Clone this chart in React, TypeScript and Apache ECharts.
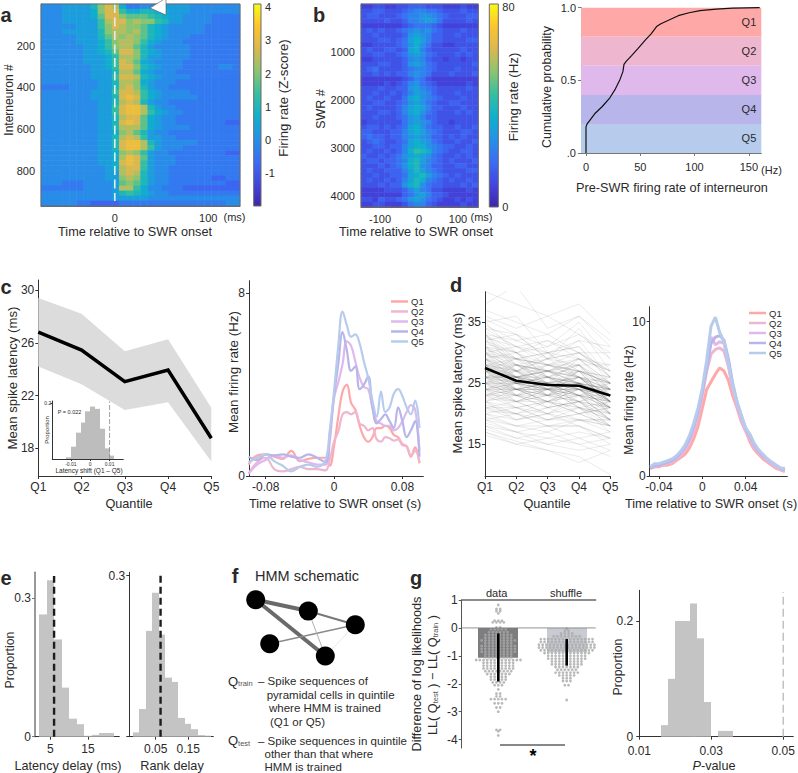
import React, { useEffect, useRef } from "react";
import * as echarts from "echarts";

const FONT = '"Liberation Sans", Arial, sans-serif';
const INK = "#2a2a2a";
const QNAMES = ["Q1", "Q2", "Q3", "Q4", "Q5"];
const QCOLORS = ["#ffa8a8", "#efb6d0", "#dfb9ec", "#b8b5ea", "#b7cced"];
const PARULA = ["#3e26a8", "#4346e0", "#3b6cf5", "#2591e6", "#0fb0cd", "#35bfa0", "#8cc470", "#d9b84f", "#fcc32f", "#f9fb15"];

// panel a: z = -1.1 + 0.35 * hex digit; one string per block of interneurons, one digit per time bin
const heatARows = [
  "33344446 9ba52233444443333333", "3334444 59bb75566554443333333", "33344445 8bb98887654433332222",
  "333444447abb9a99764433332222", "3333344479ba9986543333322222", "3334444469aa9a86543333322222",
  "333334446 8a9a98654333222222", "3333344457 9aa97543332222222", "33333344579aa864333332222222",
  "333333445 68bb96543333222222", "33333344457aa96443333222222", "33333344457ba8543333222222",
  "3333333445 7bb96543332222233", "33333334446aa854333222222222", "33333334447bba65433332222222",
  "33333333446aa954333222222222", "22223333446ab964332222222222", "33333334447bba75433332222222",
  "33333334446bcb75433333222222", "33333333446aba64332222222222", "333333334 47bcca643322222222",
  "333333334 47bcca754332222222", "33333333446abb85433222222222", "33333333446bcb85433222222211",
  "33333333446aaa85433332222222", "3333333344 59a8643322222222", "33333333446aba74433222222222",
  "33333333446bcca6433333222222", "33333333446bcca7433322222222", "333333334459a974332222222211",
  "33333333445acb84333222222222", "33333333445bcb74333222222222", "33333333345abb74332222222222",
  "33333333344aba64332222222222", "33333333344 9a9643322222211", "3332223333489864332222222211",
  "22222233334aa753322211111111", "33333333334676543322222222", "33333333334444433333 33333333",
  "33333221111222222222 22222233",
].map((r) => r.replace(/ /g, "").padEnd(28, "2").slice(0, 28));

// panel b: rate (Hz) = 4 * hex digit; one string per block of ripples
const heatBRows = [
  "22332233444333222322", "33443334566554333433", "34433345667765433344", "33334334667875333343",
  "22222223455543222222", "34343345676754333433", "33433334787644334333", "33344345898644333344",
  "22333345797533223333", "34334434896433333433", "33443345787543334343", "22333334676433233233",
  "33344334787543333334", "34533334566543334333", "33434344676533343334", "22222223465322222222",
  "22223234675432222232", "33343344786543333343", "33433434687643334333", "34334335897654333433",
  "33443345787543344333", "34333346898644333433", "33344346897543334343", "33433345786443333333",
  "23333335787643323333", "34434345897544334334", "44333446898654333443", "45443446787644343433",
  "34543345898754334334", "33443446899765443343", "3433434 69ba965433443", "4334345789 8754334343",
  "34434456 9a865434333 4", "33343457 9a76443344 33", "3433444 68a865433334 4", "33433445 89a865434333",
  "3433434 68a965434334 3", "33343447 9a754433343 4", "22223334686533222232", "22222224578644322222",
  "33243345787543223232", "22332223566432222322",
].map((r) => r.replace(/ /g, "").padEnd(20, "3").slice(0, 20));

// cumulative distribution
const cdfRate = [0, 0, 1, 3, 8, 15, 22, 27, 31, 34, 35, 37, 42, 48, 55, 60, 65, 69, 75, 85, 95, 105, 120, 135, 160];
const cdfProb = [0, 0.18, 0.2, 0.22, 0.27, 0.32, 0.38, 0.44, 0.5, 0.56, 0.61, 0.63, 0.67, 0.72, 0.78, 0.82, 0.87, 0.89, 0.91, 0.945, 0.965, 0.98, 0.99, 0.997, 1];
const quintileEdges = [1, 0.8, 0.6, 0.4, 0.2, 0];

// panel c
const latencyMeanC = [26.8, 25.45, 23.05, 23.93, 18.76];
const latencyUpperC = [29.4, 28.2, 25.35, 26.27, 21.08];
const latencyLowerC = [24.2, 22.85, 20.9, 21.5, 17.0];
const insetEdges = [-0.0125, -0.01, -0.0075, -0.005, -0.0025, 0, 0.0025, 0.005, 0.0075, 0.01, 0.0125];
const insetHeights = [0.006, 0.044, 0.094, 0.13, 0.17, 0.187, 0.179, 0.108, 0.038, 0.012];
const tC = [-0.1, -0.09, -0.08, -0.07, -0.06, -0.05, -0.04, -0.03, -0.02, -0.01, -0.005, 0, 0.005, 0.01, 0.015, 0.02, 0.025, 0.03, 0.035, 0.04, 0.045, 0.05, 0.055, 0.06, 0.065, 0.07, 0.075, 0.08, 0.085, 0.09, 0.095, 0.1];
const rateC1 = [0.5, 0.9, 0.95, 0.85, 0.75, 1.1, 0.65, 0.75, 0.8, 0.8, 0.45, 1.3, 2.6, 3.7, 4.0, 3.2, 2.9, 2.2, 1.7, 1.5, 1.7, 2.1, 2.1, 2.2, 2.1, 1.8, 1.7, 1.4, 1.3, 0.85, 1.25, 0.55];
const rateC2 = [0.1, 0.6, 0.8, 0.3, 0.2, 0.3, 0.4, 0.3, 0.3, 0.25, 0.7, 1.5, 1.95, 2.7, 2.8, 2.7, 2.8, 2.3, 2.2, 2.0, 2.1, 1.6, 1.5, 1.7, 1.65, 1.55, 1.6, 1.35, 1.3, 0.9, 1.1, 0.6];
const rateC3 = [0.1, 0.5, 0.7, 0.9, 0.8, 0.9, 0.7, 0.6, 0.5, 0.5, 1.5, 3.4, 4.1, 4.9, 5.9, 5.7, 5.0, 4.3, 3.9, 3.8, 3.0, 2.4, 2.3, 2.2, 2.2, 2.0, 2.1, 2.4, 2.8, 3.1, 2.9, 1.1];
const rateC4 = [0.85, 0.7, 0.95, 0.9, 0.95, 0.85, 0.8, 0.95, 0.8, 0.6, 1.8, 3.5, 4.9, 6.3, 5.5, 4.6, 4.8, 3.8, 4.0, 4.36, 3.0, 2.3, 2.5, 2.7, 2.4, 2.1, 3.0, 2.4, 1.7, 2.0, 2.4, 0.85];
const rateC5 = [0.6, 0.8, 0.95, 0.65, 0.45, 0.2, 0.4, 0.5, 0.4, 0.7, 2.0, 3.7, 5.7, 7.2, 6.6, 6.1, 6.2, 5.8, 5.0, 4.3, 3.3, 2.6, 3.7, 2.8, 3.0, 3.6, 3.8, 3.5, 3.0, 2.7, 3.3, 2.1];

// panel d
const latencyMeanD = [27.5, 25.4, 24.7, 24.6, 23.0];
const latencyLinesD = [
  [40, 38, 36, 38, 33], [38, 41, 34, 36, 32], [37, 35, 33, 36, 31], [36, 34, 36, 33, 30], [35.5, 33, 31, 35, 29], [35, 36, 30, 32, 31],
  [34.5, 32, 33, 30, 30], [34, 33, 29, 34, 27], [33.5, 31, 32, 29, 28], [33, 32, 30, 31, 26], [33, 30, 31, 33, 29], [32.5, 31, 28, 30, 27],
  [32, 33, 29, 28, 28], [32, 29, 30, 31, 25], [31.5, 30, 28, 29, 27], [31, 28, 29, 32, 26], [31, 30, 27, 28, 25], [30.5, 29, 30, 27, 26],
  [30, 28, 27, 29, 24], [30, 27, 29, 30, 27], [29.5, 29, 26, 27, 25], [29, 27, 28, 26, 24], [29, 28, 25, 29, 25], [28.5, 26, 27, 28, 23],
  [28, 27, 26, 25, 26], [28, 25, 28, 27, 24], [27.5, 26, 24, 27, 22], [27, 26, 27, 24, 25], [27, 24, 25, 26, 23], [26.5, 25, 26, 23, 24],
  [26, 26, 24, 25, 21], [26, 23, 25, 24, 23], [25.5, 24, 23, 26, 22], [25, 25, 24, 22, 24], [25, 23, 22, 24, 20], [24.5, 24, 25, 23, 22],
  [24, 22, 23, 24, 21], [24, 23, 21, 22, 23], [23.5, 22, 24, 21, 20], [23, 23, 22, 23, 21], [23, 21, 22, 20, 22], [22.5, 22, 20, 23, 19],
  [22, 20, 22, 21, 20], [22, 21, 19, 20, 21], [21.5, 20, 21, 22, 18], [21, 21, 20, 19, 19], [21, 19, 20, 21, 17], [20.5, 20, 18, 19, 19],
  [20, 18, 19, 20, 18], [20, 19, 20, 18, 16], [19.5, 18, 17, 19, 18], [19, 18, 18, 16, 17], [19, 17, 18, 18, 15], [18.5, 17, 16, 17, 16],
  [18, 16, 17, 15, 16], [18, 17, 15, 16, 14], [17.5, 16, 15, 14, 15], [17, 15, 16, 15, 13], [17, 15.5, 14, 12, 14], [16.5, 15, 14, 13, 10],
  [31, 27, 30, 26, 22], [29, 26, 23, 28, 20], [33, 28, 26, 24, 23], [27, 29, 24, 22, 19], [25, 27, 23, 27, 21], [24, 26, 26, 21, 18],
  [28, 24, 27, 25, 20], [30, 25, 24, 26, 22], [26, 28, 25, 23, 19], [23, 25, 21, 25, 24], [29, 25, 25, 24, 21], [27, 25, 25, 25, 22],
  [28, 26, 24, 24, 23], [26, 25, 26, 25, 24], [27, 24, 24, 23, 21], [25, 24, 24, 24, 22], [28, 26, 25, 26, 24], [26, 24, 23, 25, 23],
  [29, 27, 25, 23, 25], [27, 26, 23, 24, 20], [25, 26, 25, 26, 25], [24, 25, 24, 25, 23], [30, 26, 26, 25, 24], [28, 25, 23, 25, 22],
  [34, 31, 30, 29, 27], [32, 30, 26, 28, 24], [31, 29, 27, 25, 24], [33, 29, 28, 27, 25], [30, 29, 28, 28, 23], [29, 30, 26, 25, 23],
  [28, 28, 27, 26, 22], [27, 27, 27, 26, 23], [26, 27, 24, 24, 22], [25, 22, 24, 23, 20], [24, 24, 22, 25, 22], [23, 24, 23, 22, 20],
  [22, 23, 21, 22, 19], [21, 22, 22, 20, 18], [20, 21, 19, 21, 19], [19, 20, 19, 19, 18], [24, 21, 22, 23, 19], [26, 22, 23, 22, 21],
  [28, 23, 26, 24, 21], [30, 27, 24, 27, 22], [31, 26, 28, 26, 23], [32, 28, 27, 29, 25], [29, 24, 25, 22, 21], [27, 23, 24, 25, 20],
  [26, 24, 22, 21, 19], [25, 23, 24, 21, 22], [24, 23, 23, 20, 21], [23, 22, 20, 22, 18], [22, 19, 21, 19, 17], [21, 20, 18, 18, 16],
  [35, 30, 32, 30, 26], [33, 27, 29, 26, 24], [30, 31, 29, 30, 26], [28, 29, 28, 27, 26], [27, 28, 26, 28, 24], [25, 28, 27, 25, 23],
  [26, 26, 27, 27, 25], [24, 25, 25, 24, 24], [23, 24, 25, 25, 22], [22, 24, 22, 24, 21], [27, 25, 26, 24, 24], [29, 26, 27, 26, 25],
  [28, 27, 25, 27, 25], [26, 25, 24, 26, 22], [25, 25, 23, 23, 23], [24, 24, 24, 23, 22], [27, 26, 25, 23, 22], [26, 26, 25, 24, 23],
];
const tD = [-0.048, -0.044, -0.04, -0.036, -0.032, -0.028, -0.024, -0.02, -0.016, -0.012, -0.008, -0.004, 0, 0.004, 0.008, 0.012, 0.016, 0.02, 0.024, 0.028, 0.032, 0.036, 0.04, 0.044, 0.048, 0.052, 0.056, 0.06, 0.064, 0.068, 0.072, 0.076];
const rateD1 = [0.5, 0.6, 0.6, 0.7, 0.7, 0.8, 1.0, 1.2, 1.4, 1.8, 2.4, 3.2, 4.4, 5.6, 6.1, 6.6, 7.0, 6.8, 6.2, 5.2, 4.4, 3.5, 2.9, 2.2, 1.7, 1.4, 1.1, 0.9, 0.7, 0.5, 0.4, 0.3];
const rateD2 = [0.5, 0.6, 0.7, 0.7, 0.8, 0.9, 1.1, 1.3, 1.7, 2.1, 2.9, 3.8, 5.2, 6.8, 7.9, 8.2, 8.3, 8.1, 7.1, 5.6, 4.6, 3.6, 2.9, 2.4, 1.8, 1.5, 1.2, 1.0, 0.8, 0.6, 0.4, 0.3];
const rateD3 = [0.6, 0.7, 0.7, 0.8, 0.9, 1.0, 1.2, 1.4, 1.8, 2.3, 3.1, 4.0, 5.4, 7.0, 9.0, 8.5, 8.7, 8.6, 7.4, 5.8, 4.7, 3.7, 3.0, 2.5, 1.9, 1.6, 1.3, 1.0, 0.8, 0.6, 0.5, 0.4];
const rateD4 = [0.5, 0.7, 0.7, 0.8, 0.9, 1.0, 1.2, 1.5, 1.9, 2.4, 3.2, 4.2, 5.5, 7.0, 8.6, 9.0, 9.1, 8.8, 7.6, 6.0, 4.8, 3.9, 3.1, 2.6, 2.0, 1.6, 1.3, 1.1, 0.9, 0.7, 0.5, 0.4];
const rateD5 = [0.6, 0.8, 0.8, 0.9, 1.0, 1.1, 1.3, 1.6, 2.0, 2.6, 3.4, 4.4, 5.7, 7.5, 9.7, 10.3, 9.3, 8.7, 7.3, 5.8, 4.8, 3.9, 3.1, 2.7, 2.1, 1.7, 1.4, 1.1, 0.9, 0.7, 0.5, 0.5];

// panel e
const latencyEdges = [2, 4, 6, 8, 10, 12, 14, 16, 18, 20, 22];
const latencyHeights = [0.264, 0.338, 0.21, 0.106, 0.039, 0.027, 0.002, 0.004, 0.008, 0.008];
const rankEdges = [-0.02, 0, 0.02, 0.04, 0.06, 0.08, 0.1, 0.12, 0.14, 0.16, 0.18, 0.2, 0.22];
const rankHeights = [0.008, 0.0515, 0.197, 0.268, 0.19, 0.11, 0.102, 0.035, 0.024, 0.014, 0.003, 0.002];
const latencyDelayMean = 6;
const rankDelayMean = 0.065;

// panel g: [difference, number of dots in that row of the swarm]
const swarmData = [[0.82, 1], [0.68, 2], [0.6, 2], [0.52, 1], [0.26, 3], [0.2, 4], [0.02, 2], [-0.05, 5], [-0.15, 6], [-0.25, 8], [-0.35, 8], [-0.45, 10], [-0.55, 8], [-0.65, 10], [-0.75, 10], [-0.85, 10], [-0.95, 8], [-1.05, 8], [-1.15, 13], [-1.25, 9], [-1.35, 9], [-1.45, 9], [-1.55, 8], [-1.65, 7], [-1.75, 5], [-1.85, 5], [-1.95, 4], [-2.05, 3], [-2.2, 1], [-2.35, 2], [-2.45, 2], [-2.55, 5], [-2.7, 3], [-2.85, 2], [-3.0, 1], [-3.65, 2], [-3.7, 1], [-3.85, 1]];
const swarmShuffle = [[-0.03, 1], [-0.1, 2], [-0.2, 4], [-0.3, 8], [-0.4, 15], [-0.5, 15], [-0.6, 16], [-0.7, 16], [-0.8, 15], [-0.9, 13], [-1.0, 11], [-1.1, 11], [-1.2, 9], [-1.3, 9], [-1.4, 7], [-1.5, 6], [-1.6, 7], [-1.7, 5], [-1.8, 3], [-1.9, 3], [-2.05, 2], [-2.58, 1]];
const llMeans = [-1.07, -0.87];
const llErrorTop = [-0.2, -0.4];
const llErrorBottom = [-1.92, -1.35];
const pEdges = [0.016, 0.018, 0.02, 0.022, 0.024, 0.026, 0.028, 0.03, 0.032, 0.034, 0.036];
const pHeights = [0.02, 0.1, 0.2, 0.2, 0.23, 0.17, 0.06, 0, 0.01, 0.01];

function buildOption() {
  const grid: any[] = [], xAxis: any[] = [], yAxis: any[] = [], series: any[] = [], graphic: any[] = [];
  const add = (l: number, t: number, r: number, b: number, x: any, y: any) => {
    const i = grid.length;
    grid.push({ left: l, top: t, width: r - l, height: b - t });
    xAxis.push({ gridIndex: i, ...x });
    yAxis.push({ gridIndex: i, ...y });
    return i;
  };
  const ax = (min: number, max: number, ticks: number[], o: any = {}) => ({
    type: "value", min, max, inverse: !!o.inverse, position: o.pos,
    splitLine: { show: false },
    axisLine: { show: o.line !== "none", onZero: false, lineStyle: { color: o.line || "#333", width: o.lw || 1 } },
    axisTick: { show: !o.noTick, length: o.tl ?? 3, inside: !!o.inside, customValues: ticks, lineStyle: { color: o.line || "#333" } },
    axisLabel: { show: !o.noLabel, customValues: ticks, formatter: o.fmt || ((v: number) => String(v)), fontSize: o.fs || 12, color: INK, fontFamily: FONT, margin: o.m ?? 5 },
  });
  const hidden = (min: number, max: number) => ({ type: "value", min, max, show: false, splitLine: { show: false } });
  const catAx = (data: string[]) => ({
    type: "category", data, boundaryGap: false,
    axisLine: { show: true, onZero: false, lineStyle: { color: "#333", width: 1 } },
    axisTick: { show: true, length: 3, alignWithLabel: true, lineStyle: { color: "#333" } },
    axisLabel: { fontSize: 12, color: INK, fontFamily: FONT, margin: 5, interval: 0 },
  });
  const txt = (text: string, x: number, y: number, o: any = {}) => {
    graphic.push({
      type: "text", x, y, rotation: o.rot ? Math.PI / 2 : 0, z: 60, silent: true,
      style: { text, fontSize: o.fs || 12.7, fontFamily: FONT, fontWeight: o.bold ? "bold" : "normal", fontStyle: o.italic ? "italic" : "normal", fill: o.fill || INK, align: o.align || "center", verticalAlign: "middle", rich: o.rich },
    });
  };
  const hist = (g: number, edges: number[], heights: number[], color: string) => {
    series.push({
      type: "custom", xAxisIndex: g, yAxisIndex: g, silent: true, z: 2,
      data: heights.map((h, i) => [edges[i], edges[i + 1], h]),
      encode: { x: [0, 1], y: 2 },
      renderItem: (_: any, api: any) => {
        const a = api.coord([api.value(0), api.value(2)]);
        const b = api.coord([api.value(1), 0]);
        const x0 = Math.round(a[0]), x1 = Math.round(b[0]);
        return { type: "rect", shape: { x: x0, y: Math.min(a[1], b[1]), width: x1 - x0, height: Math.abs(b[1] - a[1]) }, style: { fill: color } };
      },
    });
  };
  const vline = (g: number, data: number[][], color: string, width: number, type: any = "solid", z = 5) => {
    series.push({ type: "line", xAxisIndex: g, yAxisIndex: g, data, symbol: "none", silent: true, z, clip: false, lineStyle: { color, width, type } });
  };
  const frame = (l: number, t: number, r: number, b: number) => {
    graphic.push({ type: "rect", z: 55, silent: true, shape: { x: l, y: t, width: r - l, height: b - t }, style: { fill: "none", stroke: "#6a6a6a", lineWidth: 1 } });
  };
  const colorbar = (l: number, t: number, r: number, b: number) => {
    graphic.push({
      type: "rect", z: 1, silent: true, shape: { x: l, y: t, width: r - l, height: b - t },
      style: { fill: { type: "linear", x: 0, y: 1, x2: 0, y2: 0, colorStops: PARULA.map((color, i) => ({ offset: i / (PARULA.length - 1), color })) } },
    });
    frame(l, t, r, b);
  };
  const heat = (name: string, rect: number[], rows: string[], conv: (d: number) => number) => {
    const [l, t, r, b] = rect;
    const nc = rows[0].length;
    const g = add(l, t, r, b,
      { type: "category", show: false, data: Array.from({ length: nc }, (_, i) => String(i)) },
      { type: "category", show: false, inverse: true, data: rows.map((_, i) => String(i)) });
    const data: number[][] = [];
    rows.forEach((row, ri) => { for (let c = 0; c < nc; c++) data.push([c, ri, conv(parseInt(row[c], 16))]); });
    series.push({ type: "heatmap", name, xAxisIndex: g, yAxisIndex: g, data, silent: true, z: 2, itemStyle: { borderWidth: 0 } });
    return series.length - 1;
  };

  // ---------- panel a
  const aS = heat("a", [41, 4, 240, 206], heatARows, (d) => -1.1 + 0.35 * d);
  const a2 = add(41, 4, 240, 206,
    ax(-79, 134, [0, 100], { line: "#6a6a6a", inside: true, fs: 11, m: 6 }),
    ax(0, 969, [200, 400, 600, 800], { inverse: true, line: "#6a6a6a", inside: true, fs: 11, m: 6 }));
  vline(a2, [[0, 0], [0, 945]], "#dceef0", 1.6, [9, 4.5]);
  frame(41, 4, 240, 206);
  graphic.push({ type: "polygon", z: 58, silent: true, shape: { points: [[150, 8], [166, -2], [166, 15]] }, style: { fill: "#fff", stroke: "#555", lineWidth: 0.6 } });
  colorbar(253.7, 4, 261, 206);
  add(253.7, 4, 261, 206, hidden(0, 1),
    ax(-2, 4.1, [-1, 0, 1, 2, 3, 4], { pos: "right", line: "none", noTick: true, fs: 11, m: 4 }));
  txt("a", 6, 15, { bold: true, fs: 20 });
  txt("Interneuron #", 9, 100, { rot: true, fs: 12 });
  txt("Firing rate (Z-score)", 283, 98, { rot: true, fs: 13.3 });
  txt("(ms)", 234.5, 217, { fs: 11 });
  txt("Time relative to SWR onset", 135, 232);

  // ---------- panel b
  const bS = heat("b", [361, 4, 478.3, 207], heatBRows, (d) => 4 * d);
  add(361, 4, 478.3, 207,
    ax(-149, 152, [-100, 0, 100], { line: "#6a6a6a", inside: true, fs: 11, m: 6 }),
    ax(0, 4220, [1000, 2000, 3000, 4000], { inverse: true, line: "#6a6a6a", inside: true, fs: 11, m: 6 }));
  frame(361, 4, 478.3, 207);
  colorbar(489.3, 4, 498.3, 207);
  add(489.3, 4, 498.3, 207, hidden(0, 1),
    ax(0, 81, [0, 80], { pos: "right", line: "none", noTick: true, fs: 11, m: 4 }));
  txt("b", 319, 15, { bold: true, fs: 20 });
  txt("SWR #", 321, 109, { rot: true, fs: 12.5 });
  txt("Firing rate (Hz)", 513, 97, { rot: true, fs: 13.3 });
  txt("(ms)", 481.5, 217, { fs: 11 });
  txt("Time relative to SWR onset", 416, 232);

  // ---------- CDF
  const cdf = add(581, 7.7, 761.3, 153,
    ax(-4.6, 161.5, [0, 50, 100, 150], { line: "#777", fs: 11, m: 8 }),
    ax(0, 1, [0, 0.5, 1], { line: "#777", fs: 11, m: 5, fmt: (v: number) => (v === 0 ? ".0" : v.toFixed(1)) }));
  series.push({
    type: "line", xAxisIndex: cdf, yAxisIndex: cdf, data: cdfRate.map((r, i) => [r, cdfProb[i]]), symbol: "none", z: 4, silent: true,
    lineStyle: { color: "#111", width: 1.2 },
    markArea: {
      silent: true, z: 1,
      data: QNAMES.map((q, i) => [
        { yAxis: quintileEdges[i + 1], name: q, itemStyle: { color: QCOLORS[i], opacity: 1 }, label: { show: true, position: "insideRight", distance: 5, fontSize: 11, color: INK, fontFamily: FONT, formatter: q } },
        { yAxis: quintileEdges[i] },
      ]),
    },
  });
  txt("Cumulative probability", 547, 87, { rot: true, fs: 12.4 });
  txt("(Hz)", 771.5, 170, { fs: 11 });
  txt("Pre-SWR firing rate of interneuron", 672, 188);

  // ---------- panel c left
  const cL = add(38.3, 280, 211.3, 476, catAx(QNAMES), ax(15.9, 30.76, [18, 22, 26, 30], { m: 4 }));
  series.push({ type: "line", xAxisIndex: cL, yAxisIndex: cL, stack: "sem", data: latencyLowerC, symbol: "none", silent: true, lineStyle: { width: 0 }, areaStyle: { opacity: 0 } });
  series.push({ type: "line", xAxisIndex: cL, yAxisIndex: cL, stack: "sem", data: latencyUpperC.map((u, i) => +(u - latencyLowerC[i]).toFixed(2)), symbol: "none", silent: true, lineStyle: { width: 0 }, areaStyle: { color: "#dcdcdc", opacity: 1 } });
  series.push({ type: "line", xAxisIndex: cL, yAxisIndex: cL, data: latencyMeanC, symbol: "none", silent: true, z: 4, lineStyle: { color: "#000", width: 3.5, cap: "butt", join: "miter" } });
  txt("c", 6, 287, { bold: true, fs: 20 });
  txt("Mean spike latency (ms)", 12, 378, { rot: true, fs: 13.2 });
  txt("Quantile", 129, 504);

  // inset
  const ins = add(52.3, 401, 123.3, 459,
    ax(-0.0196, 0.0171, [-0.01, 0, 0.01], { fs: 5, m: 2, tl: 2 }),
    ax(0, 0.207, [0.2], { fs: 5, m: 1, tl: 2 }));
  hist(ins, insetEdges, insetHeights, "#bdbdbd");
  vline(ins, [[0.01, 0], [0.01, 0.205]], "#8a8a8a", 0.8, [5, 2]);
  txt("P = 0.022", 69.5, 412, { fs: 5.5 });
  txt("Proportion", 46.5, 430, { rot: true, fs: 6 });
  txt("Latency shift (Q1 \u2013 Q5)", 89, 470.5, { fs: 6.5 });

  // ---------- panel c right
  const cR = add(249, 280.7, 423.3, 476,
    ax(-0.0995, 0.1045, [-0.08, 0, 0.08], { m: 5 }),
    ax(0, 8.55, [0, 8], { m: 4 }));
  [rateC1, rateC2, rateC3, rateC4, rateC5].forEach((v, i) => {
    series.push({ type: "line", name: QNAMES[i], xAxisIndex: cR, yAxisIndex: cR, data: v.map((y, k) => [tC[k], y]), symbol: "none", silent: true, smooth: 0.4, z: 3 + i, itemStyle: { color: QCOLORS[i] }, lineStyle: { color: QCOLORS[i], width: 2.2 } });
  });
  txt("Mean firing rate (Hz)", 233, 372, { rot: true, fs: 13.4 });
  txt("Time relative to SWR onset (s)", 335, 504);

  // ---------- panel d left
  const dL = add(485, 291.7, 610.3, 476, catAx(QNAMES), ax(9.8, 40, [15, 25, 35], { m: 4 }));
  latencyLinesD.forEach((v) => {
    series.push({ type: "line", xAxisIndex: dL, yAxisIndex: dL, data: v, symbol: "none", silent: true, z: 2, lineStyle: { color: "#666", width: 1, opacity: 0.13 } });
  });
  series.push({ type: "line", xAxisIndex: dL, yAxisIndex: dL, data: latencyMeanD, symbol: "none", silent: true, z: 4, lineStyle: { color: "#000", width: 2.6 } });
  txt("d", 456, 285, { bold: true, fs: 20 });
  txt("Mean spike latency (ms)", 457, 383, { rot: true, fs: 13 });
  txt("Quantile", 547, 504);

  // ---------- panel d right
  const dR = add(649.7, 306.7, 787.3, 476,
    ax(-0.0485, 0.0783, [-0.04, 0, 0.04], { m: 5 }),
    ax(0, 10.97, [0, 10], { m: 4 }));
  [rateD1, rateD2, rateD3, rateD4, rateD5].forEach((v, i) => {
    series.push({ type: "line", name: QNAMES[i], xAxisIndex: dR, yAxisIndex: dR, data: v.map((y, k) => [tD[k], y]), symbol: "none", silent: true, z: 3 + i, itemStyle: { color: QCOLORS[i] }, lineStyle: { color: QCOLORS[i], width: 3 } });
  });
  txt("Mean firing rate (Hz)", 629, 400, { rot: true, fs: 12 });
  txt("Time relative to SWR onset (s)", 711, 504);

  // ---------- panel e
  const eL = add(35, 572.3, 119.3, 736.7,
    ax(0.94, 23.3, [5, 15], { m: 6 }),
    ax(0, 0.355, [0, 0.3], { line: "#777", lw: 1.5, m: 4 }));
  hist(eL, latencyEdges, latencyHeights, "#c4c4c4");
  vline(eL, [[latencyDelayMean, 0], [latencyDelayMean, 0.347]], "#1c1c1c", 2.4, [7, 4]);
  const eR = add(129.3, 572.3, 213.3, 736.7,
    ax(-0.031, 0.227, [0.05, 0.15], { m: 6 }),
    ax(0, 0.306, [0, 0.3], { m: 4, fmt: (v: number) => (v === 0 ? "" : String(v)) }));
  hist(eR, rankEdges, rankHeights, "#c4c4c4");
  vline(eR, [[rankDelayMean, 0], [rankDelayMean, 0.3]], "#1c1c1c", 2.4, [7, 4]);
  txt("e", 6, 578, { bold: true, fs: 20 });
  txt("Proportion", 9.5, 660, { rot: true, fs: 12.3 });
  txt("Latency delay (ms)", 68, 766);
  txt("Rank delay", 172, 766);

  // ---------- panel f
  txt("f", 235, 576, { bold: true, fs: 20 });
  txt("HMM schematic", 255, 575.5, { fs: 14.5, align: "left" });
  const nodes = [[255.7, 599.7], [308.3, 611], [355.3, 624.7], [269.7, 643.7], [325.3, 656]];
  const links = [[0, 1, 4, "#6a6a6a"], [0, 4, 4, "#6a6a6a"], [1, 2, 2, "#777"], [2, 3, 1.4, "#8a8a8a"], [1, 4, 1, "#b0b0b0"], [2, 4, 0.7, "#dcdcdc"]] as any[];
  links.forEach(([a, b, w, c]) => graphic.push({ type: "line", z: 40, silent: true, shape: { x1: nodes[a][0], y1: nodes[a][1], x2: nodes[b][0], y2: nodes[b][1] }, style: { stroke: c, lineWidth: w } }));
  nodes.forEach(([cx, cy]) => graphic.push({ type: "circle", z: 41, silent: true, shape: { cx, cy, r: 9.5 }, style: { fill: "#000" } }));
  const subRich = { s: { fontSize: 7.5, fontFamily: FONT, fill: "#555", padding: [5, 0, 0, 0] }, m: { fontSize: 13, fontFamily: FONT, fill: INK } };
  txt("{m|Q}{s|train}", 228, 681, { align: "left", rich: subRich });
  txt("\u2013 Spike sequences of", 258, 681, { align: "left", fs: 11.5 });
  txt("pyramidal cells in quintile", 266.7, 695, { align: "left", fs: 11.5 });
  txt("where HMM is trained", 269, 708, { align: "left", fs: 11.5 });
  txt("(Q1 or Q5)", 270, 721.7, { align: "left", fs: 11.5 });
  txt("{m|Q}{s|test}", 228, 740.7, { align: "left", rich: subRich });
  txt("\u2013 Spike sequences in quintile", 258, 740.7, { align: "left", fs: 11.5 });
  txt("other than that where", 264.5, 754, { align: "left", fs: 11.5 });
  txt("HMM is trained", 264.5, 767, { align: "left", fs: 11.5 });

  // ---------- panel g left
  const gL = add(461.7, 600, 595.7, 748,
    { ...ax(-0.535, 1.424, [], { pos: "top", line: "#666", lw: 1.5, noTick: true, noLabel: true }) },
    ax(-4.3, 1, [1, 0, -1, -2, -3, -4], { m: 4, line: "#555" }));
  hist(gL, [-0.29, 0.29], [llMeans[0]], "#7d7d7f");
  hist(gL, [0.71, 1.29], [llMeans[1]], "#c8cbd1");
  const dots = (rows: number[][], center: number) => {
    const pts: number[][] = [];
    rows.forEach(([y, n]) => { for (let i = 0; i < n; i++) pts.push([center + (i - (n - 1) / 2) * 0.054, y]); });
    series.push({ type: "scatter", xAxisIndex: gL, yAxisIndex: gL, data: pts, symbolSize: 2.8, silent: true, z: 3, itemStyle: { color: "#a9a9a9" } });
  };
  dots(swarmData, 0);
  dots(swarmShuffle, 1);
  vline(gL, [[-0.535, 0], [1.424, 0]], "#777", 0.8, "solid", 4);
  vline(gL, [[0, llErrorTop[0]], [0, llErrorBottom[0]]], "#000", 2.6);
  vline(gL, [[1, llErrorTop[1]], [1, llErrorBottom[1]]], "#000", 2.6);
  txt("g", 416, 578, { bold: true, fs: 20 });
  txt("data", 496.7, 593, { fs: 11 });
  txt("shuffle", 566, 593, { fs: 11 });
  txt("Difference of log likelihoods", 416.5, 674, { rot: true });
  txt("LL( Q{s|test} ) \u2212 LL( Q{s|train} )", 432.5, 675, { rot: true, rich: { s: { fontSize: 7.5, fontFamily: FONT, fill: "#555", padding: [5, 0, 0, 0] } } });
  graphic.push({ type: "line", z: 40, silent: true, shape: { x1: 500, y1: 745, x2: 565, y2: 745 }, style: { stroke: "#111", lineWidth: 1 } });
  txt("*", 533, 756, { bold: true, fs: 18, fill: "#000" });

  // ---------- panel g right
  const gR = add(639.3, 590.3, 793.3, 736.7,
    ax(0.01, 0.0528, [0.01, 0.03, 0.05], { m: 8 }),
    ax(0, 0.253, [0, 0.2], { m: 6 }));
  hist(gR, pEdges, pHeights, "#c4c4c4");
  vline(gR, [[0.05, 0], [0.05, 0.25]], "#bdbdbd", 1.4, [8, 4]);
  txt("Proportion", 617.5, 667, { rot: true, fs: 12.3 });
  txt("{i|P}-value", 714, 766, { rich: { i: { fontStyle: "italic", fontSize: 12.7, fontFamily: FONT, fill: INK } } });

  const legendBase = {
    orient: "vertical", data: QNAMES, selectedMode: false, icon: "rect", itemWidth: 17, itemHeight: 2.5, itemGap: 0, padding: 0,
    textStyle: { fontSize: 9.5, color: INK, fontFamily: FONT, padding: [0, 0, 0, -2] },
  };
  return {
    animation: false,
    textStyle: { fontFamily: FONT },
    grid, xAxis, yAxis, series, graphic: { elements: graphic },
    visualMap: [
      { show: false, seriesIndex: aS, min: -2, max: 4.1, dimension: 2, inRange: { color: PARULA } },
      { show: false, seriesIndex: bS, min: 0, max: 81, dimension: 2, inRange: { color: PARULA } },
    ],
    legend: [
      { ...legendBase, left: 391, top: 296.5 },
      { ...legendBase, left: 749, top: 308 },
    ],
  };
}

export default function App() {
  const ref = useRef<HTMLDivElement>(null);
  useEffect(() => {
    if (!ref.current) return;
    const chart = echarts.init(ref.current, undefined, { renderer: "svg" });
    chart.setOption(buildOption() as any);
    return () => chart.dispose();
  }, []);
  return <div ref={ref} style={{ position: "fixed", left: 0, top: 0, width: 798, height: 773, background: "#fff" }} />;
}
